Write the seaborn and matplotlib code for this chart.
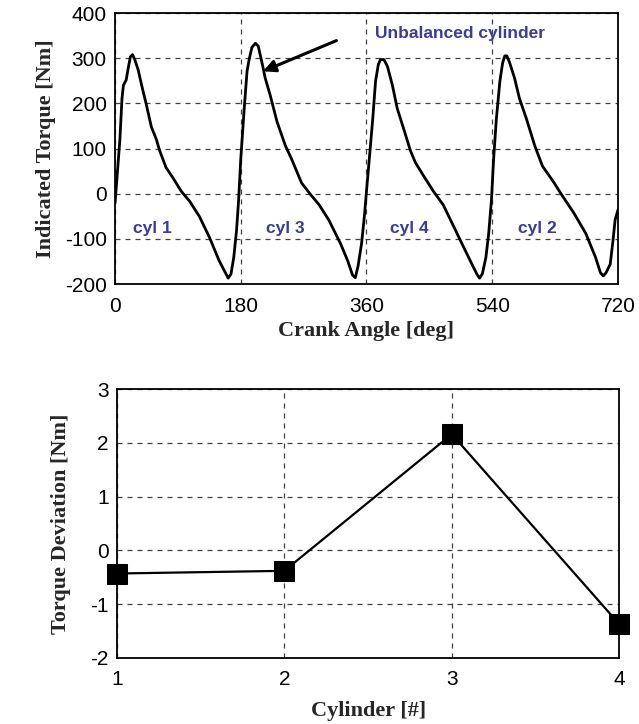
import matplotlib
matplotlib.use("Agg")
import matplotlib.pyplot as plt
import seaborn as sns
import pandas as pd

# ---- data ----
crank_angle = [0, 3, 7, 10, 12, 16, 19, 22, 25, 28, 33, 38, 45, 52, 59, 64, 73, 83, 95, 107,
               121, 135, 149, 159, 162, 166, 170, 174, 177, 180, 185, 189, 192, 196, 201, 205, 211, 215, 222, 232,
               244, 253, 267, 280, 292, 306, 323, 333, 340, 344, 348, 353, 357, 360, 364, 369, 373, 377, 380, 385,
               390, 397, 404, 414, 423, 430, 442, 456, 470, 485, 499, 511, 518, 522, 526, 531, 535, 539, 542, 546,
               551, 555, 558, 561, 565, 572, 579, 589, 601, 612, 627, 641, 657, 674, 688, 695, 699, 703, 709, 713,
               716, 720]
torque = [-21, 39, 121, 211, 240, 252, 279, 303, 308, 298, 275, 241, 196, 148, 121, 95, 58, 35, 5, -17,
          -51, -96, -148, -178, -187, -178, -141, -81, -13, 76, 189, 271, 297, 324, 333, 327, 286, 256, 219, 159,
          106, 76, 24, -2, -24, -58, -111, -148, -180, -186, -160, -110, -50, 5, 76, 166, 249, 286, 297, 297,
          282, 241, 189, 140, 95, 69, 39, 5, -25, -73, -118, -156, -178, -187, -177, -141, -88, -13, 76, 166,
          249, 290, 305, 305, 290, 256, 211, 166, 106, 61, 28, -6, -43, -88, -141, -175, -182, -175, -156, -103,
          -58, -36]

cyl_labels = ["cyl 1", "cyl 3", "cyl 4", "cyl 2"]
cyl_label_x = [54, 244, 421, 605]

cylinders = [1, 2, 3, 4]
deviation = [-0.43, -0.38, 2.16, -1.37]

top_xticks = [0, 180, 360, 540, 720]
top_yticks = [-200, -100, 0, 100, 200, 300, 400]
bot_xticks = [1, 2, 3, 4]
bot_yticks = [-2, -1, 0, 1, 2, 3]

# ---- style ----
sns.set_style("white")
plt.rcParams['font.family'] = ['Liberation Sans', 'DejaVu Sans']
plt.rcParams['axes.unicode_minus'] = False

fig = plt.figure(figsize=(6.39, 7.24), dpi=100)
ax1 = fig.add_axes([0.180, 0.6077, 0.787, 0.3743])
ax2 = fig.add_axes([0.183, 0.0912, 0.786, 0.3715])

label_font = dict(family=['Liberation Serif', 'DejaVu Serif'], fontweight='bold', fontsize=16)
tick_size = 15
grid_kw = dict(color='0.25', linestyle=(0, (4, 4)), linewidth=0.9)
navy = '#3b3b9c'

# top plot
df1 = pd.DataFrame({"angle": crank_angle, "torque": torque})
sns.lineplot(data=df1, x="angle", y="torque", ax=ax1, color='black', linewidth=2.0,
             sort=False, estimator=None)
ax1.set_xlim(0, 720)
ax1.set_ylim(-200, 400)
ax1.set_xticks(top_xticks)
ax1.set_yticks(top_yticks)
ax1.grid(True, **grid_kw)
ax1.set_xlabel("Crank Angle [deg]", labelpad=4, **label_font)
ax1.set_ylabel("Indicated Torque [Nm]", labelpad=6, **label_font)
for lab, x in zip(cyl_labels, cyl_label_x):
    ax1.text(x, -77, lab, color=navy, fontsize=12.5, fontweight='bold', ha='center', va='center')
ax1.text(494, 355, "Unbalanced cylinder", color=navy, fontsize=12.5, fontweight='bold',
         ha='center', va='center')
ax1.annotate("", xy=(212, 271), xytext=(317, 339),
             arrowprops=dict(arrowstyle='-|>', color='black', lw=2.2, mutation_scale=18,
                             shrinkA=0, shrinkB=0))

# bottom plot
df2 = pd.DataFrame({"cyl": cylinders, "dev": deviation})
sns.lineplot(data=df2, x="cyl", y="dev", ax=ax2, color='black', linewidth=1.6,
             marker='s', markersize=15, markeredgecolor='black', markerfacecolor='black')
for ln in ax2.lines:
    ln.set_clip_on(False)
ax2.set_xlim(1, 4)
ax2.set_ylim(-2, 3)
ax2.set_xticks(bot_xticks)
ax2.set_yticks(bot_yticks)
ax2.grid(True, **grid_kw)
ax2.set_xlabel("Cylinder [#]", labelpad=8, **label_font)
ax2.set_ylabel("Torque Deviation [Nm]", labelpad=14, **label_font)

for ax in (ax1, ax2):
    for s in ax.spines.values():
        s.set_color('black')
        s.set_linewidth(1.3)
    ax.tick_params(labelsize=tick_size, length=0, colors='black')
    ax.tick_params(axis='x', pad=9)
    ax.tick_params(axis='y', pad=6)
    ax.set_axisbelow(True)

fig.savefig("out.png", dpi=100)
